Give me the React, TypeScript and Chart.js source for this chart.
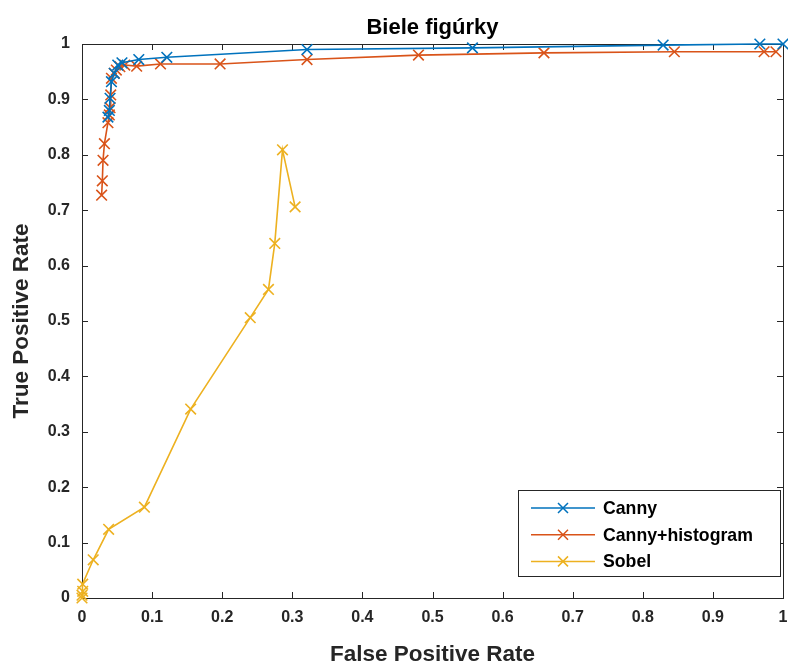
import React, { useEffect, useRef } from "react";
import { Chart, registerables } from "chart.js";

Chart.register(...registerables);

const chartTitle = "Biele figúrky";
const xAxisTitle = "False Positive Rate";
const yAxisTitle = "True Positive Rate";
const xTickLabels = ["0", "0.1", "0.2", "0.3", "0.4", "0.5", "0.6", "0.7", "0.8", "0.9", "1"];
const yTickLabels = ["0", "0.1", "0.2", "0.3", "0.4", "0.5", "0.6", "0.7", "0.8", "0.9", "1"];

const seriesNames = ["Canny", "Canny+histogram", "Sobel"];
const seriesColors = ["#0072BD", "#D95319", "#EDB120"];

const cannyFpr = [0.037, 0.039, 0.040, 0.042, 0.046, 0.051, 0.057, 0.081, 0.121, 0.321, 0.557, 0.829, 0.967, 1.0];
const cannyTpr = [0.868, 0.880, 0.902, 0.932, 0.947, 0.962, 0.966, 0.972, 0.976, 0.990, 0.993, 0.998, 1.0, 1.0];

const histFpr = [0.028, 0.029, 0.030, 0.032, 0.037, 0.039, 0.040, 0.041, 0.042, 0.046, 0.049, 0.054, 0.061, 0.078, 0.112, 0.197, 0.321, 0.480, 0.659, 0.845, 0.973, 0.990];
const histTpr = [0.727, 0.753, 0.790, 0.820, 0.858, 0.872, 0.885, 0.908, 0.938, 0.947, 0.953, 0.959, 0.962, 0.960, 0.964, 0.964, 0.972, 0.980, 0.984, 0.986, 0.986, 0.986];

const sobelFpr = [0.000, 0.000, 0.001, 0.001, 0.016, 0.038, 0.089, 0.155, 0.240, 0.266, 0.275, 0.286, 0.304];
const sobelTpr = [0.000, 0.005, 0.012, 0.025, 0.069, 0.124, 0.164, 0.341, 0.506, 0.557, 0.640, 0.809, 0.706];

const FONT = "'Liberation Sans', Arial, Helvetica, sans-serif";
const AXIS_COLOR = "#262626";

const toPoints = (xs: number[], ys: number[]) => xs.map((x, i) => ({ x, y: ys[i] }));

const boxTicksPlugin = {
  id: "boxTicks",
  beforeDatasetsDraw(chart: any) {
    const { ctx, chartArea } = chart;
    const { left, right, top, bottom } = chartArea;
    const xs = chart.scales.x;
    const ys = chart.scales.y;
    const len = 6;
    ctx.save();
    ctx.strokeStyle = AXIS_COLOR;
    ctx.lineWidth = 1;
    ctx.beginPath();
    xs.ticks.forEach((t: any) => {
      const px = Math.round(xs.getPixelForValue(t.value)) + 0.5;
      ctx.moveTo(px, bottom);
      ctx.lineTo(px, bottom - len);
      ctx.moveTo(px, top);
      ctx.lineTo(px, top + len);
    });
    ys.ticks.forEach((t: any) => {
      const py = Math.round(ys.getPixelForValue(t.value)) + 0.5;
      ctx.moveTo(left, py);
      ctx.lineTo(left + len, py);
      ctx.moveTo(right, py);
      ctx.lineTo(right - len, py);
    });
    ctx.stroke();
    ctx.strokeRect(Math.round(left) + 0.5, Math.round(top) + 0.5, Math.round(right - left), Math.round(bottom - top));
    ctx.restore();
  },
};

const overlayPlugin = {
  id: "overlay",
  afterDraw(chart: any) {
    const { ctx, chartArea } = chart;
    ctx.save();
    // title centred on the plot area
    ctx.fillStyle = "#000000";
    ctx.font = `bold 22px ${FONT}`;
    ctx.textAlign = "center";
    ctx.textBaseline = "middle";
    ctx.fillText(chartTitle, (chartArea.left + chartArea.right) / 2, 28);

    // legend
    const bx = 518.5, by = 490.5, bw = 262, bh = 86;
    ctx.fillStyle = "#ffffff";
    ctx.fillRect(bx, by, bw, bh);
    ctx.strokeStyle = AXIS_COLOR;
    ctx.lineWidth = 1;
    ctx.strokeRect(bx, by, bw, bh);
    chart.data.datasets.forEach((ds: any, i: number) => {
      const y = 508 + i * 26.7;
      ctx.strokeStyle = ds.borderColor;
      ctx.lineWidth = 1.5;
      ctx.beginPath();
      ctx.moveTo(531, y);
      ctx.lineTo(595, y);
      ctx.stroke();
      const r = 5;
      ctx.beginPath();
      ctx.moveTo(563 - r, y - r);
      ctx.lineTo(563 + r, y + r);
      ctx.moveTo(563 - r, y + r);
      ctx.lineTo(563 + r, y - r);
      ctx.stroke();
      ctx.fillStyle = "#000000";
      ctx.font = `bold 17.7px ${FONT}`;
      ctx.textBaseline = "middle";
      ctx.textAlign = "left";
      ctx.fillText(ds.label, 603, y + 1);
    });
    ctx.restore();
  },
};

export default function App() {
  const canvasRef = useRef<HTMLCanvasElement | null>(null);

  useEffect(() => {
    if (!canvasRef.current) return;
    const seriesX = [cannyFpr, histFpr, sobelFpr];
    const seriesY = [cannyTpr, histTpr, sobelTpr];
    const chart = new Chart(canvasRef.current, {
      type: "scatter",
      data: {
        datasets: seriesNames.map((name, i) => ({
          label: name,
          data: toPoints(seriesX[i], seriesY[i]),
          showLine: true,
          borderColor: seriesColors[i],
          backgroundColor: seriesColors[i],
          borderWidth: 1.6,
          pointStyle: "crossRot",
          pointRadius: 7.5,
          pointHoverRadius: 7.5,
          pointBorderWidth: 1.6,
          clip: false,
        })),
      },
      plugins: [boxTicksPlugin, overlayPlugin],
      options: {
        animation: false,
        responsive: false,
        layout: { autoPadding: false, padding: { left: 0, right: 5, top: 44, bottom: 0 } },
        plugins: {
          legend: { display: false },
          tooltip: { enabled: false },
          title: { display: false },
        },
        scales: {
          x: {
            type: "linear",
            min: 0,
            max: 1,
            grid: { display: false, drawTicks: false },
            border: { display: false },
            ticks: {
              stepSize: 0.1,
              padding: 10,
              color: AXIS_COLOR,
              font: { family: FONT, size: 16, weight: "bold" },
              maxRotation: 0,
              callback: (_v: any, i: number) => xTickLabels[i],
            },
            title: {
              display: true,
              text: xAxisTitle,
              color: AXIS_COLOR,
              font: { family: FONT, size: 22.5, weight: "bold" },
              padding: { top: 0, bottom: -3 },
            },
            afterFit: (s: any) => {
              s.height = 67;
              s.paddingLeft = 0;
              s.paddingRight = 0;
            },
          },
          y: {
            type: "linear",
            min: 0,
            max: 1,
            grid: { display: false, drawTicks: false },
            border: { display: false },
            ticks: {
              stepSize: 0.1,
              padding: 12,
              color: AXIS_COLOR,
              font: { family: FONT, size: 16, weight: "bold" },
              callback: (_v: any, i: number) => yTickLabels[i],
            },
            title: {
              display: true,
              text: yAxisTitle,
              color: AXIS_COLOR,
              font: { family: FONT, size: 22.5, weight: "bold" },
              padding: { top: 8.5, bottom: 0 },
            },
            afterFit: (s: any) => {
              s.width = 82;
              s.paddingTop = 0;
              s.paddingBottom = 0;
            },
          },
        },
      },
    } as any);
    return () => chart.destroy();
  }, []);

  return (
    <div style={{ position: "absolute", left: 0, top: 0, width: 788, height: 665, background: "#ffffff" }}>
      <canvas ref={canvasRef} width={788} height={665} style={{ display: "block", width: 788, height: 665 }} />
    </div>
  );
}
